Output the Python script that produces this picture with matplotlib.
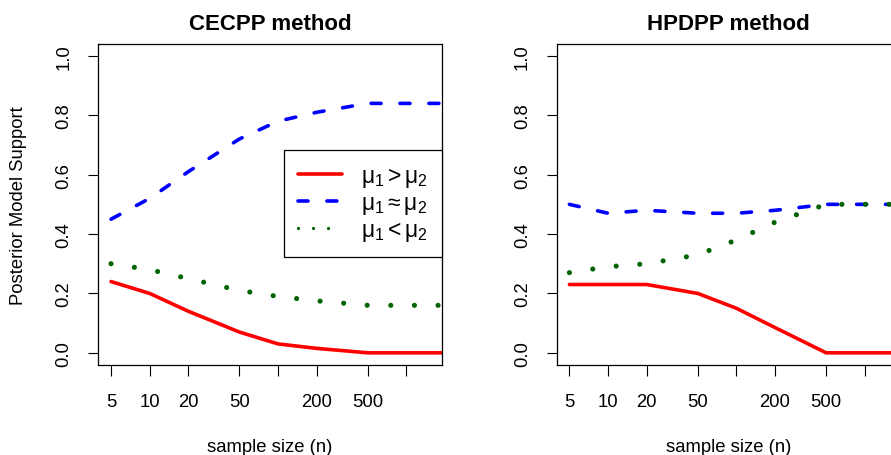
import numpy as np
import matplotlib
matplotlib.use("Agg")
import matplotlib.pyplot as plt
from matplotlib.lines import Line2D

plt.rcParams['font.family'] = ['Liberation Sans', 'DejaVu Sans']
plt.rcParams['mathtext.fontset'] = 'custom'
plt.rcParams['mathtext.rm'] = 'Liberation Sans'
plt.rcParams['mathtext.it'] = 'Liberation Sans'
plt.rcParams['mathtext.bf'] = 'Liberation Sans:bold'
plt.rcParams['lines.scale_dashes'] = False

# ---- data ----
sample_size = [5, 10, 20, 50, 100, 200, 500, 1000, 2000]
cecpp_greater = [0.24, 0.20, 0.14, 0.07, 0.03, 0.015, 0.0, 0.0, 0.0]
cecpp_equal = [0.45, 0.52, 0.61, 0.72, 0.78, 0.81, 0.84, 0.84, 0.84]
cecpp_less = [0.30, 0.28, 0.25, 0.21, 0.19, 0.175, 0.16, 0.16, 0.16]
hpdpp_greater = [0.23, 0.23, 0.23, 0.20, 0.15, 0.085, 0.0, 0.0, 0.0]
hpdpp_equal = [0.50, 0.47, 0.48, 0.47, 0.47, 0.48, 0.50, 0.50, 0.50]
hpdpp_less = [0.27, 0.29, 0.30, 0.33, 0.38, 0.44, 0.50, 0.50, 0.50]
x_range = [5, 1500]
x_ticks = [5, 10, 20, 50, 100, 200, 500, 1000]
x_tick_labels = ['5', '10', '20', '50', '', '200', '500', '']
y_ticks = [0.0, 0.2, 0.4, 0.6, 0.8, 1.0]
y_tick_labels = ['0.0', '0.2', '0.4', '0.6', '0.8', '1.0']
titles = ['CECPP method', 'HPDPP method']
legend_labels = [r'$\mu_1 > \mu_2$', r'$\mu_1 \approx \mu_2$', r'$\mu_1 < \mu_2$']

W, H = 891, 456
fig = plt.figure(figsize=(W / 100, H / 100), dpi=100)

FS = 13.3
LFS = 16.5
RED, BLUE, GREEN = '#FF0000', '#0000FF', '#006400'

def px_axes(x0, x1, y0, y1):
    return [x0 / W, 1 - y1 / H, (x1 - x0) / W, (y1 - y0) / H]

axes_px = [(98.3, 441.7), (556.7, 900.1)]
y_top, y_bot = 45.0, 365.7

L = np.log10(x_range[1] / x_range[0])
xlo = 10 ** (np.log10(x_range[0]) - 0.04 * L)
xhi = 10 ** (np.log10(x_range[1]) + 0.04 * L)

data = [(cecpp_greater, cecpp_equal, cecpp_less), (hpdpp_greater, hpdpp_equal, hpdpp_less)]

for i, (x0, x1) in enumerate(axes_px):
    ax = fig.add_axes(px_axes(x0, x1, y_top, y_bot))
    g, e, l = data[i]
    ax.plot(sample_size, g, color=RED, lw=2.6, solid_capstyle='round', solid_joinstyle='round')
    ax.plot(sample_size, e, color=BLUE, lw=2.6, linestyle=(0, (7.2, 13.6)),
            dash_capstyle='round', dash_joinstyle='round')
    ax.plot(sample_size, l, color=GREEN, lw=3.7, linestyle=(0, (0.01, 17.0)),
            dash_capstyle='round')
    ax.set_xscale('log')
    ax.set_xlim(xlo, xhi)
    ax.set_ylim(-0.04, 1.04)
    ax.xaxis.set_minor_locator(matplotlib.ticker.NullLocator())
    ax.set_xticks(x_ticks)
    ax.set_xticklabels(x_tick_labels, fontsize=FS)
    ax.set_yticks(y_ticks)
    ax.set_yticklabels(y_tick_labels, fontsize=FS, rotation=90, va='center', ha='right')
    ax.tick_params(axis='x', length=8, width=0.8, pad=12.5, direction='out')
    ax.tick_params(axis='y', length=7, width=0.8, pad=11.5, direction='out')
    for sp in ax.spines.values():
        sp.set_linewidth(0.9)
        sp.set_color('black')
    ax.set_title(titles[i], fontsize=16, fontweight='bold', pad=10.8)
    ax.text(0.5, 1 - (448 - y_top) / (y_bot - y_top), 'sample size (n)', transform=ax.transAxes,
            ha='center', va='center', fontsize=FS)
    if i == 0:
        fig.text(19 / W, 1 - ((y_top + y_bot) / 2) / H, 'Posterior Model Support', rotation=90,
                 ha='center', va='center', fontsize=FS)
        handles = [
            Line2D([], [], color=RED, lw=2.6, solid_capstyle='round'),
            Line2D([], [], color=BLUE, lw=2.6, linestyle=(0, (7.2, 13.6)), dash_capstyle='round'),
            Line2D([], [], color=GREEN, lw=2.4, linestyle=(0, (0.01, 10.8)), dash_capstyle='round'),
        ]
        em = LFS * 100 / 72.0
        leg = ax.legend(handles, legend_labels, loc='upper right',
                        bbox_to_anchor=(1.0, (y_bot - 150.7) / (y_bot - y_top)),
                        borderaxespad=0, fancybox=False, framealpha=1, edgecolor='black',
                        prop={'size': LFS}, borderpad=14.0 / em, handlelength=44.0 / em,
                        handletextpad=19.0 / em, labelspacing=0.1)
        leg.get_frame().set_linewidth(0.9)

fig.savefig('out.png', dpi=100)
